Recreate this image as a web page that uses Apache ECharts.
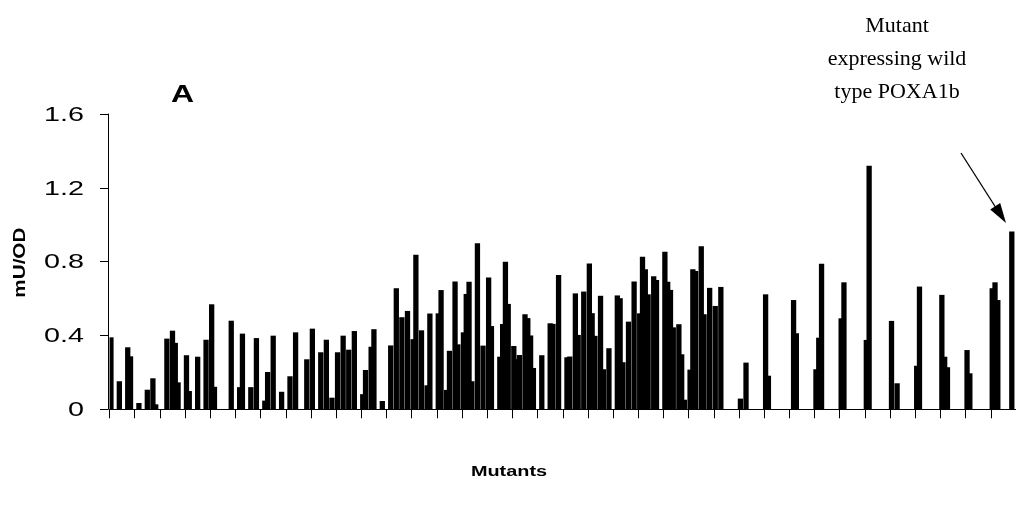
<!DOCTYPE html>
<html><head><meta charset="utf-8">
<script src="https://cdn.jsdelivr.net/npm/echarts@6/dist/echarts.min.js"></script>
<style>html,body{margin:0;padding:0;background:#fff}#c{width:1016px;height:509px}</style>
</head><body><div id="c"></div>
<script>
// ---- data ----
const categoryCount = 324;
const barIndices = [0,3,6,7,10,13,15,16,20,22,23,24,27,28,31,34,36,37,43,46,47,50,52,55,56,58,61,64,66,70,72,75,77,79,81,83,85,87,90,91,93,94,97,100,102,104,106,108,109,111,113,114,117,118,120,121,123,124,126,127,128,129,131,133,135,136,139,140,141,142,144,145,146,148,149,150,151,154,157,158,160,163,164,166,167,169,171,172,173,175,176,178,181,182,183,185,187,189,190,191,192,194,195,198,199,200,201,203,204,205,207,208,209,211,212,214,216,218,225,227,234,235,244,245,252,253,254,261,262,270,271,279,281,288,289,297,298,299,306,307,315,316,317,322];
const barValues = [0.39,0.152,0.336,0.287,0.034,0.106,0.168,0.027,0.383,0.426,0.36,0.146,0.293,0.099,0.285,0.377,0.569,0.122,0.48,0.12,0.41,0.12,0.386,0.047,0.202,0.399,0.095,0.179,0.417,0.271,0.437,0.309,0.377,0.063,0.309,0.399,0.323,0.424,0.082,0.213,0.339,0.434,0.045,0.346,0.656,0.499,0.533,0.38,0.838,0.428,0.13,0.519,0.52,0.646,0.105,0.317,0.692,0.352,0.417,0.625,0.691,0.152,0.9,0.345,0.714,0.451,0.285,0.462,0.8,0.571,0.343,0.272,0.294,0.515,0.494,0.4,0.224,0.293,0.466,0.463,0.727,0.282,0.286,0.628,0.403,0.638,0.79,0.521,0.398,0.615,0.217,0.331,0.617,0.602,0.255,0.475,0.693,0.52,0.827,0.759,0.623,0.721,0.701,0.854,0.691,0.647,0.444,0.461,0.298,0.052,0.215,0.759,0.75,0.883,0.515,0.658,0.56,0.663,0.058,0.253,0.623,0.182,0.592,0.412,0.217,0.388,0.788,0.493,0.688,0.376,1.32,0.479,0.141,0.236,0.665,0.62,0.285,0.228,0.321,0.195,0.656,0.688,0.592,0.963];
const yMin = 0, yMax = 1.6, yStep = 0.4;
const yTickLabels = ['0', '0.4', '0.8', '1.2', '1.6'];
const yTickValues = [0, 0.4, 0.8, 1.2, 1.6];
const annotationLines = ['Mutant', 'expressing wild', 'type POXA1b'];
const panelLabel = 'A';
const xTitle = 'Mutants';
const yTitle = 'mU/OD';

// ---- build ----
const categories = [];
const values = [];
for (let i = 0; i < categoryCount; i++) { categories.push('M' + (i + 1)); values.push(null); }
barIndices.forEach((idx, k) => { values[idx] = barValues[k]; });

const chart = echarts.init(document.getElementById('c'), null, {renderer: 'canvas'});
const sans = 'Liberation Sans, Arial, sans-serif';
const serif = 'Liberation Serif, Times New Roman, serif';
const stretch = 1.37;

chart.setOption({
  animation: false,
  backgroundColor: '#fff',
  grid: {left: 109.54, top: 114, width: 911.1, height: 295.3},
  xAxis: {
    type: 'category', data: categories, boundaryGap: true,
    axisLine: {lineStyle: {color: '#000', width: 1}},
    axisTick: {show: true, interval: 8, length: 9, lineStyle: {color: '#000', width: 1}},
    axisLabel: {show: false},
    splitLine: {show: false}
  },
  yAxis: {
    type: 'value', min: yMin, max: yMax, interval: yStep, offset: 1.5,
    axisLine: {show: true, lineStyle: {color: '#000', width: 1}},
    axisTick: {show: true, length: 8, lineStyle: {color: '#000', width: 1}},
    axisLabel: {show: false},
    splitLine: {show: false}
  },
  series: [{
    type: 'bar', data: values, barWidth: 5.3,
    itemStyle: {color: '#000'}, silent: true
  }]
});

// tick labels placed through the library's own y scale, horizontally stretched like the reference
const gfx = [];
yTickValues.forEach((v, k) => {
  const py = chart.convertToPixel({yAxisIndex: 0}, v);
  gfx.push({type: 'text', x: 84, y: py + 1, scaleX: stretch,
    style: {text: yTickLabels[k], font: '21px ' + sans, fill: '#000', textAlign: 'right', textVerticalAlign: 'middle'}});
});
const yMid = (chart.convertToPixel({yAxisIndex: 0}, yMin) + chart.convertToPixel({yAxisIndex: 0}, yMax)) / 2;
gfx.push({type: 'text', x: 21, y: yMid + 1, rotation: Math.PI / 2, scaleX: 1.27,
  style: {text: yTitle, font: 'bold 16.3px ' + sans, fill: '#000', textAlign: 'center', textVerticalAlign: 'middle'}});
gfx.push({type: 'text', x: 171, y: 95, scaleX: 1.33,
  style: {text: panelLabel, font: 'bold 24px ' + sans, fill: '#000', textAlign: 'left', textVerticalAlign: 'middle'}});
gfx.push({type: 'text', x: 509, y: 472, scaleX: stretch,
  style: {text: xTitle, font: 'bold 14.5px ' + sans, fill: '#000', textAlign: 'center', textVerticalAlign: 'middle'}});
gfx.push({type: 'text', x: 897, y: 10,
  style: {text: annotationLines.join('\n'), font: '22px ' + serif, fill: '#000', textAlign: 'center', lineHeight: 33}});
gfx.push({type: 'line', shape: {x1: 961, y1: 153, x2: 998, y2: 211}, style: {stroke: '#000', lineWidth: 1.3}});
gfx.push({type: 'polygon', shape: {points: [[1006, 223], [990.2, 209.4], [1000.2, 203.0]]}, style: {fill: '#000'}});
chart.setOption({graphic: gfx});
</script></body></html>
